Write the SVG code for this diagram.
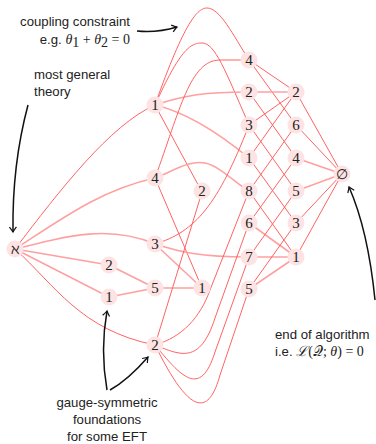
<svg xmlns="http://www.w3.org/2000/svg" width="376" height="444" viewBox="0 0 376 444">
<style>
.e{fill:none;stroke:#ff5a5a;stroke-width:0.95}
.t{fill:none;stroke:#ffa0a0;stroke-width:1.55}
.n circle{fill:#fde3e3}
.n text{font-family:"Liberation Serif","DejaVu Serif",serif;font-size:15px;fill:#222;text-anchor:middle}
.lbl{font-family:"Liberation Sans","DejaVu Sans",sans-serif;font-size:13.2px;fill:#222}
.m{font-family:"Liberation Serif","DejaVu Serif",serif;font-size:14px}
.a{fill:none;stroke:#111;stroke-width:1.5}
</style>
<defs>
<marker id="ah" viewBox="-6 -5 8 10" refX="0" refY="0" markerWidth="8" markerHeight="10" markerUnits="userSpaceOnUse" orient="auto">
<path d="M-5,-3.5 Q-1.5,-0.8 0,0 Q-1.5,0.8 -5,3.5" fill="none" stroke="#111" stroke-width="1.2"/>
</marker>
</defs>
<rect width="376" height="444" fill="#fff"/>
<g id="connectors">
<path class="e" d="M15,249 C60,190 110,125 155,105"/>
<path class="t" d="M15,249 C60,220 100,190 155,178"/>
<path class="t" d="M15,249 C70,235 110,225 155,244"/>
<path class="t" d="M15,249 L109,265"/>
<path class="t" d="M15,249 L109,297"/>
<path class="e" d="M15,249 C55,285 80,330 155,345"/>
<path class="t" d="M109,265 L155,288"/>
<path class="t" d="M109,297 L155,288"/>
<path class="t" d="M155,288 L202,288"/>
<path class="e" d="M155,105 C185,20 198,8 207,8 C220,8 233,35 249,60"/>
<path class="e" d="M155,105 C180,50 190,43 202,43 C215,43 225,70 249,125"/>
<path class="t" d="M155,105 C185,95 205,92 249,92"/>
<path class="t" d="M155,105 C185,112 215,130 249,158"/>
<path class="e" d="M155,105 L202,192"/>
<path class="e" d="M155,178 C180,110 190,60 220,60 L249,60"/>
<path class="t" d="M155,178 C175,170 190,160 205,163 C220,166 235,183 249,191"/>
<path class="e" d="M155,178 L202,288"/>
<path class="e" d="M155,244 C195,232 218,205 249,125"/>
<path class="t" d="M155,244 C180,252 200,257 249,257"/>
<path class="t" d="M155,244 L202,288"/>
<path class="e" d="M155,345 L202,192"/>
<path class="e" d="M155,345 C182,337 200,318 210,290 L249,191"/>
<path class="e" d="M155,345 C180,355 200,365 215,318 L249,223"/>
<path class="e" d="M155,345 C180,375 200,400 215,352 L249,257"/>
<path class="e" d="M155,345 C180,395 205,430 220,375 L249,289"/>
<path class="e" d="M249,60 L296,92"/>
<path class="e" d="M249,60 L296,125"/>
<path class="t" d="M249,92 L296,92"/>
<path class="e" d="M249,92 L296,158"/>
<path class="e" d="M249,125 L296,92"/>
<path class="e" d="M249,125 L296,191"/>
<path class="e" d="M249,158 L296,92"/>
<path class="e" d="M249,158 L296,223"/>
<path class="e" d="M249,191 L296,125"/>
<path class="e" d="M249,191 L296,257"/>
<path class="e" d="M249,223 L296,158"/>
<path class="t" d="M249,223 L296,257"/>
<path class="e" d="M249,257 L296,191"/>
<path class="t" d="M249,257 L296,257"/>
<path class="e" d="M249,289 L296,223"/>
<path class="t" d="M249,289 L296,257"/>
<path class="e" d="M296,92 L342,174"/>
<path class="e" d="M296,125 L342,174"/>
<path class="t" d="M296,158 L342,174"/>
<path class="t" d="M296,191 L342,174"/>
<path class="e" d="M296,223 L342,174"/>
<path class="e" d="M296,257 L342,174"/>
</g>
<g id="n-aleph" class="n"><circle cx="15" cy="249" r="8.5"/><text x="15" y="254" style="font-family:'DejaVu Serif',serif;font-size:14px">ℵ</text></g>
<g id="n-1a" class="n"><circle cx="155" cy="105" r="8.5"/><text x="155" y="110">1</text></g>
<g id="n-4a" class="n"><circle cx="155" cy="178" r="8.5"/><text x="155" y="183">4</text></g>
<g id="n-3a" class="n"><circle cx="155" cy="244" r="8.5"/><text x="155" y="249">3</text></g>
<g id="n-2b" class="n"><circle cx="109" cy="265" r="8.5"/><text x="109" y="270">2</text></g>
<g id="n-1b" class="n"><circle cx="109" cy="297" r="8.5"/><text x="109" y="302">1</text></g>
<g id="n-5a" class="n"><circle cx="155" cy="288" r="8.5"/><text x="155" y="293">5</text></g>
<g id="n-2a" class="n"><circle cx="155" cy="345" r="8.5"/><text x="155" y="350">2</text></g>
<g id="n-2c" class="n"><circle cx="202" cy="191" r="8.5"/><text x="202" y="196">2</text></g>
<g id="n-1c" class="n"><circle cx="202" cy="288" r="8.5"/><text x="202" y="293">1</text></g>
<g id="n-4d" class="n"><circle cx="249" cy="60" r="8.5"/><text x="249" y="65">4</text></g>
<g id="n-2d" class="n"><circle cx="249" cy="92" r="8.5"/><text x="249" y="97">2</text></g>
<g id="n-3d" class="n"><circle cx="249" cy="125" r="8.5"/><text x="249" y="130">3</text></g>
<g id="n-1d" class="n"><circle cx="249" cy="158" r="8.5"/><text x="249" y="163">1</text></g>
<g id="n-8d" class="n"><circle cx="249" cy="191" r="8.5"/><text x="249" y="196">8</text></g>
<g id="n-6d" class="n"><circle cx="249" cy="223" r="8.5"/><text x="249" y="228">6</text></g>
<g id="n-7d" class="n"><circle cx="249" cy="257" r="8.5"/><text x="249" y="262">7</text></g>
<g id="n-5d" class="n"><circle cx="249" cy="289" r="8.5"/><text x="249" y="294">5</text></g>
<g id="n-2e" class="n"><circle cx="296" cy="92" r="8.5"/><text x="296" y="97">2</text></g>
<g id="n-6e" class="n"><circle cx="296" cy="125" r="8.5"/><text x="296" y="130">6</text></g>
<g id="n-4e" class="n"><circle cx="296" cy="158" r="8.5"/><text x="296" y="163">4</text></g>
<g id="n-5e" class="n"><circle cx="296" cy="191" r="8.5"/><text x="296" y="196">5</text></g>
<g id="n-3e" class="n"><circle cx="296" cy="223" r="8.5"/><text x="296" y="228">3</text></g>
<g id="n-1e" class="n"><circle cx="296" cy="257" r="8.5"/><text x="296" y="262">1</text></g>
<g id="n-empty" class="n"><circle cx="342" cy="174" r="8.5"/><text x="342" y="179" style="font-family:'DejaVu Serif',serif;font-size:14px">∅</text></g>
<g id="annotations">
<text class="lbl" x="130" y="26" text-anchor="end">coupling constraint</text>
<text class="lbl" x="130" y="44" text-anchor="end">e.g. <tspan class="m" font-style="italic">θ</tspan><tspan class="m" font-size="10" dy="3">1</tspan><tspan class="m" dy="-3"> + </tspan><tspan class="m" font-style="italic">θ</tspan><tspan class="m" font-size="10" dy="3">2</tspan><tspan class="m" dy="-3"> = 0</tspan></text>
<path class="a" d="M137,31 Q157,33 177,27" marker-end="url(#ah)"/>
<text class="lbl" x="34" y="79">most general</text>
<text class="lbl" x="34" y="96">theory</text>
<path class="a" d="M28,105 Q12,165 13,232" marker-end="url(#ah)"/>
<text class="lbl" x="107" y="407" text-anchor="middle">gauge-symmetric</text>
<text class="lbl" x="107" y="424" text-anchor="middle">foundations</text>
<text class="lbl" x="107" y="441" text-anchor="middle">for some EFT</text>
<path class="a" d="M107,390 Q100,350 107,311" marker-end="url(#ah)"/>
<path class="a" d="M110,390 Q128,380 148,357" marker-end="url(#ah)"/>
<text class="lbl" x="275" y="339">end of algorithm</text>
<text class="lbl" x="275" y="356">i.e. <tspan class="m" font-style="italic">ℒ</tspan><tspan class="m">(</tspan><tspan class="m">𝒬</tspan><tspan class="m">; </tspan><tspan class="m" font-style="italic">θ</tspan><tspan class="m">) = 0</tspan></text>
<path class="a" d="M375,300 Q368,230 349,187" marker-end="url(#ah)"/>
</g>
</svg>
